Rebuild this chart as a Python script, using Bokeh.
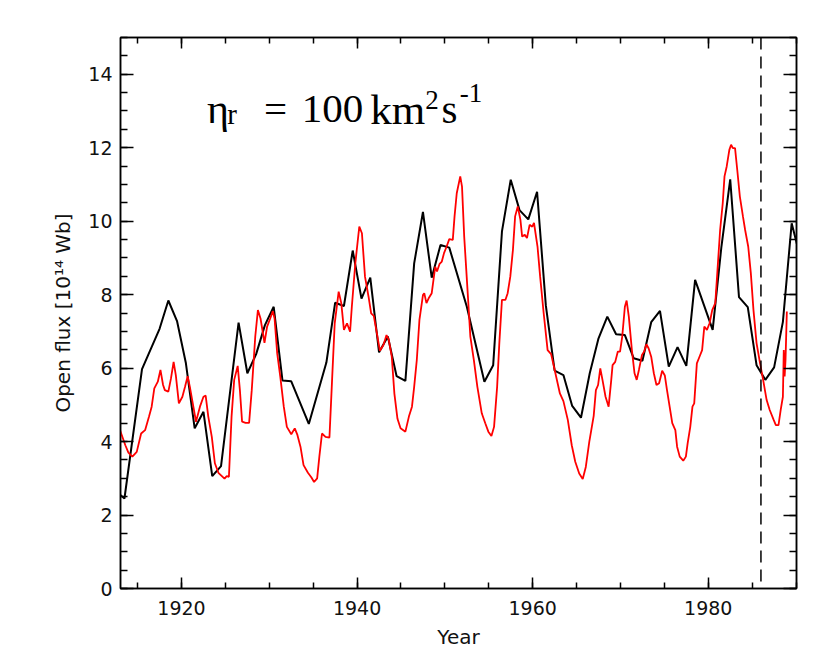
from bokeh.plotting import figure
from bokeh.models import FixedTicker, LinearAxis, Range1d, Span, Label
from bokeh.embed import file_html
from bokeh.resources import INLINE

# ---- data ----
obs_years = [1913.0, 1913.5, 1915.5, 1917.5, 1918.5, 1919.5, 1920.5, 1921.5, 1922.5, 1923.5,
             1924.5, 1926.5, 1927.5, 1928.5, 1929.5, 1930.5, 1931.5, 1932.5, 1934.5, 1936.5,
             1937.5, 1938.5, 1939.5, 1940.5, 1941.5, 1942.5, 1943.5, 1944.5, 1945.5, 1946.5,
             1947.5, 1948.5, 1949.5, 1950.5, 1952.5, 1954.5, 1955.5, 1956.5, 1957.5, 1958.5,
             1959.5, 1960.5, 1961.5, 1962.5, 1963.5, 1964.5, 1965.5, 1966.5, 1967.5, 1968.5,
             1969.5, 1970.5, 1971.5, 1972.5, 1973.5, 1974.5, 1975.5, 1976.5, 1977.5, 1978.5,
             1979.5, 1980.5, 1981.5, 1982.5, 1983.5, 1984.5, 1985.5, 1986.5, 1987.5, 1988.5,
             1989.5, 1990.5]
obs_flux = [2.55, 2.45, 5.97, 7.07, 7.84, 7.27, 6.13, 4.36, 4.81, 3.06,
            3.33, 7.24, 5.86, 6.38, 7.17, 7.67, 5.66, 5.64, 4.48, 6.15,
            7.78, 7.69, 9.20, 7.89, 8.46, 6.43, 6.86, 5.78, 5.65, 8.85,
            10.25, 8.46, 9.35, 9.28, 7.67, 5.63, 6.08, 9.72, 11.13, 10.30,
            10.05, 10.80, 7.70, 5.93, 5.81, 4.97, 4.65, 5.86, 6.81, 7.40,
            6.92, 6.90, 6.27, 6.20, 7.25, 7.56, 6.04, 6.57, 6.06, 8.40,
            7.72, 7.04, 9.31, 11.14, 7.93, 7.66, 6.08, 5.68, 6.02, 7.26,
            9.94, 9.00]

model_years = [1913.0, 1913.6, 1913.95, 1914.4, 1914.9, 1915.4, 1915.85, 1916.3, 1916.6, 1916.9,
               1917.3, 1917.6, 1917.9, 1918.1, 1918.5, 1918.8, 1919.1, 1919.35, 1919.7, 1920.1,
               1920.4, 1920.7, 1920.95, 1921.35, 1921.65, 1922.1, 1922.5, 1922.75, 1923.05, 1923.45,
               1923.8, 1924.2, 1924.9, 1925.15, 1925.4, 1925.7, 1926.0, 1926.4, 1926.65, 1926.9,
               1927.3, 1927.7, 1928.0, 1928.4, 1928.7, 1929.0, 1929.45, 1929.75, 1930.1, 1930.4,
               1930.6, 1930.9, 1931.25, 1931.65, 1932.0, 1932.5, 1932.9, 1933.2, 1933.55, 1933.9,
               1934.4, 1934.8, 1935.1, 1935.45, 1935.7, 1936.0, 1936.4, 1936.85, 1937.15, 1937.45,
               1937.9, 1938.2, 1938.5, 1938.85, 1939.2, 1939.4, 1939.8, 1940.25, 1940.55, 1940.9,
               1941.3, 1941.6, 1941.9, 1942.25, 1942.6, 1943.0, 1943.35, 1943.6, 1943.95, 1944.25,
               1944.6, 1944.95, 1945.5, 1945.9, 1946.25, 1946.5, 1946.8, 1947.1, 1947.5, 1947.65,
               1947.9, 1948.15, 1948.5, 1948.7, 1948.9, 1949.1, 1949.4, 1949.65, 1949.9, 1950.2,
               1950.5, 1950.9, 1951.1, 1951.35, 1951.75, 1951.95, 1952.2, 1952.6, 1952.9, 1953.3,
               1953.7, 1954.2, 1954.6, 1954.95, 1955.3, 1955.6, 1955.95, 1956.2, 1956.5, 1956.9,
               1957.15, 1957.45, 1957.75, 1958.0, 1958.3, 1958.6, 1958.8, 1959.1, 1959.35, 1959.65,
               1959.95, 1960.15, 1960.55, 1960.85, 1961.25, 1961.7, 1962.1, 1962.55, 1963.1, 1963.5,
               1964.0, 1964.45, 1964.85, 1965.3, 1965.7, 1966.05, 1966.45, 1966.95, 1967.2, 1967.45,
               1967.7, 1967.95, 1968.3, 1968.65, 1968.95, 1969.1, 1969.4, 1969.7, 1969.95, 1970.2,
               1970.5, 1970.7, 1970.95, 1971.3, 1971.6, 1971.85, 1972.1, 1972.45, 1972.7, 1972.95,
               1973.2, 1973.5, 1973.8, 1974.1, 1974.4, 1974.75, 1975.05, 1975.3, 1975.6, 1975.9,
               1976.25, 1976.45, 1976.75, 1977.15, 1977.45, 1977.65, 1977.95, 1978.2, 1978.4, 1978.7,
               1979.0, 1979.3, 1979.55, 1979.85, 1980.15, 1980.45, 1980.8, 1981.05, 1981.35, 1981.65,
               1981.85, 1982.1, 1982.4, 1982.6, 1982.8, 1983.05, 1983.3, 1983.6, 1983.95, 1984.2,
               1984.55, 1984.85, 1985.15, 1985.5, 1985.9, 1986.25, 1986.65, 1987.0, 1987.45, 1987.7,
               1988.0, 1988.25, 1988.5, 1988.6, 1988.7, 1988.8, 1988.95]
model_flux = [4.31, 3.90, 3.70, 3.59, 3.72, 4.22, 4.31, 4.68, 4.95, 5.45,
              5.63, 5.95, 5.54, 5.40, 5.36, 5.72, 6.17, 5.81, 5.04, 5.22,
              5.49, 5.78, 5.49, 4.95, 4.54, 4.95, 5.22, 5.25, 4.68, 4.13,
              3.41, 3.15, 2.99, 3.06, 3.04, 4.68, 5.68, 6.06, 5.40, 4.54,
              4.51, 4.51, 5.40, 6.86, 7.58, 7.35, 6.69, 7.13, 7.35, 7.55,
              7.35, 6.40, 5.77, 4.95, 4.40, 4.20, 4.36, 4.18, 3.86, 3.36,
              3.15, 3.02, 2.90, 3.00, 3.59, 4.22, 4.13, 4.11, 5.68, 7.22,
              8.08, 7.77, 7.04, 7.22, 6.99, 7.67, 8.86, 9.85, 9.67, 8.49,
              7.95, 7.49, 7.42, 6.95, 6.47, 6.63, 6.90, 6.78, 6.31, 5.30,
              4.62, 4.36, 4.27, 4.68, 4.95, 5.49, 6.22, 7.31, 7.99, 8.04,
              7.77, 7.90, 8.04, 8.40, 8.76, 8.63, 8.84, 8.90, 9.13, 9.31,
              9.51, 9.49, 10.13, 10.76, 11.22, 10.94, 9.58, 8.04, 6.86, 6.22,
              5.49, 4.77, 4.50, 4.27, 4.15, 4.40, 5.49, 6.68, 7.86, 7.86,
              8.04, 8.49, 9.22, 10.13, 10.40, 10.04, 9.58, 9.63, 9.54, 9.90,
              9.85, 9.95, 9.31, 8.49, 7.50, 6.49, 6.38, 5.90, 5.31, 5.10,
              4.59, 3.90, 3.45, 3.13, 2.98, 3.31, 4.00, 4.70, 5.40, 5.54,
              5.99, 5.68, 5.22, 4.95, 5.68, 6.08, 6.17, 6.45, 6.45, 6.86,
              7.67, 7.84, 7.40, 6.49, 5.86, 5.68, 5.95, 6.36, 6.45, 6.65,
              6.54, 6.31, 5.86, 5.54, 5.59, 5.93, 5.80, 5.40, 4.95, 4.50,
              4.31, 3.86, 3.59, 3.48, 3.59, 3.95, 4.40, 4.95, 5.04, 6.13,
              6.31, 6.49, 7.13, 7.04, 7.22, 7.58, 7.77, 8.67, 9.76, 10.49,
              11.22, 11.49, 11.94, 12.08, 11.99, 11.99, 11.40, 10.67, 10.13, 9.76,
              9.31, 8.58, 7.58, 6.68, 6.13, 5.68, 5.13, 4.86, 4.59, 4.45,
              4.45, 4.86, 5.22, 6.49, 5.77, 6.22, 7.54]

cutoff_year = 1986
x_major = [1920, 1940, 1960, 1980]
x_minor = [1915, 1920, 1925, 1930, 1935, 1940, 1945, 1950, 1955, 1960, 1965, 1970, 1975, 1980, 1985, 1990]
y_major = [0, 2, 4, 6, 8, 10, 12, 14]
y_minor = [v * 0.5 for v in range(0, 31)]

TICK_FONT = "DejaVu Sans"

p = figure(width=822, height=657, output_backend="svg", toolbar_location=None,
           x_range=Range1d(1913.05, 1990.05), y_range=Range1d(0, 15),
           min_border_left=120, min_border_right=26, min_border_top=37, min_border_bottom=69,
           x_axis_label="Year", y_axis_label="Open flux [10\u00b9\u2074 Wb]")
p.grid.visible = False
p.outline_line_color = "black"
p.outline_line_width = 1.5
p.background_fill_color = "white"
p.border_fill_color = "white"

top = LinearAxis()
right = LinearAxis()
p.add_layout(top, "above")
p.add_layout(right, "right")

for ax in p.xaxis:
    ax.ticker = FixedTicker(ticks=x_major, minor_ticks=x_minor)
    ax.major_tick_in = 11
    ax.minor_tick_in = 6
for ax in p.yaxis:
    ax.ticker = FixedTicker(ticks=y_major, minor_ticks=y_minor)
    ax.major_tick_in = 13
    ax.minor_tick_in = 7

for ax in p.xaxis + p.yaxis:
    ax.major_tick_out = 0
    ax.minor_tick_out = 0
    ax.axis_line_color = "black"
    ax.axis_line_width = 1.5
    ax.major_tick_line_color = "black"
    ax.major_tick_line_width = 1.5
    ax.minor_tick_line_color = "black"
    ax.minor_tick_line_width = 1.5
    ax.major_label_text_font = TICK_FONT
    ax.major_label_text_font_size = "19px"
    ax.major_label_text_color = "#111111"
    ax.axis_label_text_font = TICK_FONT
    ax.axis_label_text_font_size = "20px"
    ax.axis_label_text_font_style = "normal"
    ax.axis_label_text_color = "#111111"

for ax in (top, right):
    ax.major_label_text_color = None
    ax.major_label_text_font_size = "1px"
    ax.major_label_standoff = 0

p.below[0].major_label_standoff = 12
p.below[0].axis_label_standoff = 7
p.left[0].major_label_standoff = 8
p.left[0].axis_label_standoff = 10

p.line(obs_years, obs_flux, line_color="black", line_width=2)
p.line(model_years, model_flux, line_color="#ff0000", line_width=1.8)

p.add_layout(Span(location=cutoff_year, dimension="height", line_color="black",
                  line_width=1.5, line_dash="12 7"))

SERIF = "Liberation Serif"
def lab(txt, x, y, size):
    p.add_layout(Label(x=x, y=y, text=txt, text_font=SERIF, text_font_size=size,
                       text_color="black", text_align="left", text_baseline="middle"))

lab("\u03b7", 1922.9, 13.06, "42px")
lab("r", 1925.2, 12.92, "29px")
lab("=", 1929.4, 13.05, "41px")
lab("100", 1933.7, 13.05, "41px")
lab("km", 1941.5, 13.05, "43px")
lab("2", 1947.75, 13.31, "27px")
lab("s", 1949.6, 13.05, "41px")
lab("-1", 1951.7, 13.48, "27px")

open("out.html", "w").write(file_html(p, INLINE))
